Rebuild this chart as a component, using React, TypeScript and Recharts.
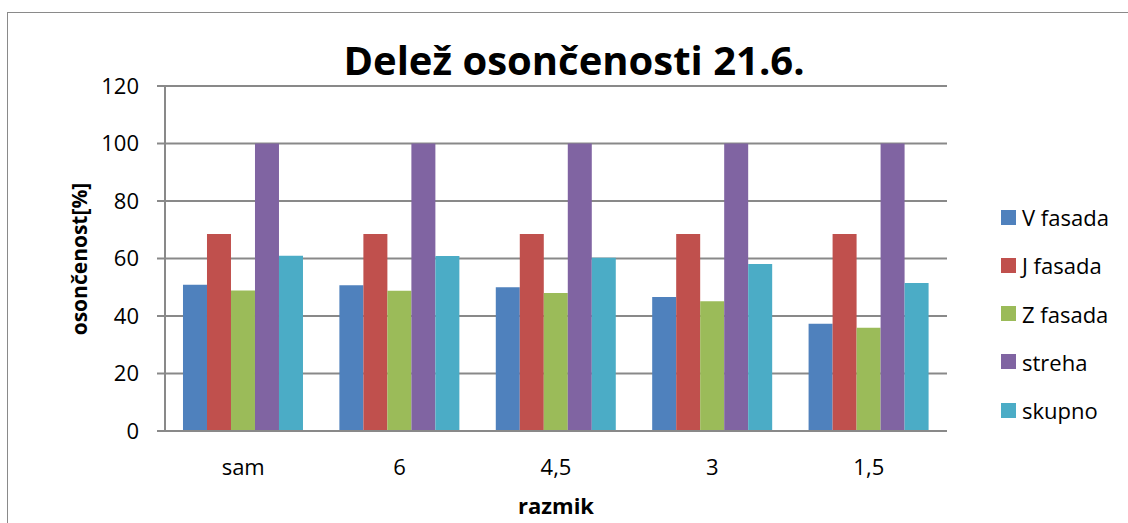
import React from "react";
import { BarChart, Bar, XAxis, YAxis, CartesianGrid } from "recharts";

const categories = ["sam", "6", "4,5", "3", "1,5"];
const vFasada = [50.9, 50.7, 50.0, 46.6, 37.3];
const jFasada = [68.5, 68.5, 68.5, 68.5, 68.5];
const zFasada = [48.9, 48.8, 48.0, 45.1, 35.9];
const streha = [100, 100, 100, 100, 100];
const skupno = [61.0, 60.9, 60.3, 58.1, 51.5];
const yTicks = [0, 20, 40, 60, 80, 100, 120];

const SERIES = [
  { key: "v", name: "V fasada", color: "#4F81BD", values: vFasada },
  { key: "j", name: "J fasada", color: "#C0504D", values: jFasada },
  { key: "z", name: "Z fasada", color: "#9BBB59", values: zFasada },
  { key: "s", name: "streha", color: "#8064A2", values: streha },
  { key: "k", name: "skupno", color: "#4BACC6", values: skupno },
];

const data = categories.map((c, i) => {
  const row: Record<string, string | number> = { name: c };
  SERIES.forEach((s) => (row[s.key] = s.values[i]));
  return row;
});

const FONT = "'Open Sans', sans-serif";
const GRID = "#898989";
const TICK = { fill: "#000", fontSize: 22, fontFamily: FONT };

export default function App() {
  return (
    <div style={{ position: "absolute", left: 0, top: 0, width: 1128, height: 523, overflow: "hidden", background: "#fff", fontFamily: FONT }}>
      <div style={{ position: "absolute", left: 7, top: 12, width: 1300, height: 700, border: "1.5px solid #8a8a8a" }} />

      <BarChart
        width={1128}
        height={523}
        data={data}
        margin={{ top: 86, right: 181, bottom: 32, left: 0 }}
        barCategoryGap="11.5%"
        barGap={0}
        style={{ position: "absolute", left: 0, top: 0 }}
      >
        <CartesianGrid vertical={false} stroke={GRID} strokeWidth={2} />
        <XAxis
          dataKey="name"
          height={60}
          axisLine={{ stroke: GRID, strokeWidth: 2 }}
          tickLine={false}
          tickSize={0}
          tickMargin={28}
          tick={TICK}
        />
        <YAxis
          width={165}
          domain={[0, 120]}
          ticks={yTicks}
          interval={0}
          axisLine={{ stroke: GRID, strokeWidth: 2 }}
          tickLine={{ stroke: GRID, strokeWidth: 2 }}
          tickSize={8}
          tickMargin={18}
          tick={TICK}
        />
        {SERIES.map((s) => (
          <Bar key={s.key} dataKey={s.key} name={s.name} fill={s.color} isAnimationActive={false} />
        ))}
      </BarChart>

      {/* title and axis titles */}
      <div style={{ position: "absolute", left: 0, width: 1148, top: 40, textAlign: "center", fontSize: 40, lineHeight: 1, fontWeight: 700 }}>
        Delež osončenosti 21.6.
      </div>
      <div style={{ position: "absolute", left: 456, width: 200, top: 494, textAlign: "center", fontSize: 22, lineHeight: 1, fontWeight: 700 }}>
        razmik
      </div>
      <div style={{ position: "absolute", left: 79, top: 259, transform: "translate(-50%, -50%) rotate(-90deg)", whiteSpace: "nowrap", fontSize: 21, lineHeight: 1, fontWeight: 700 }}>
        osončenost[%]
      </div>

      {/* legend */}
      {SERIES.map((s, i) => (
        <div key={s.key} style={{ position: "absolute", left: 1001, top: 217 + i * 48.3 - 12, height: 24, display: "flex", alignItems: "center", fontSize: 22, whiteSpace: "nowrap" }}>
          <span style={{ display: "inline-block", width: 15, height: 15, background: s.color, marginRight: 6 }} />
          {s.name}
        </div>
      ))}
    </div>
  );
}
